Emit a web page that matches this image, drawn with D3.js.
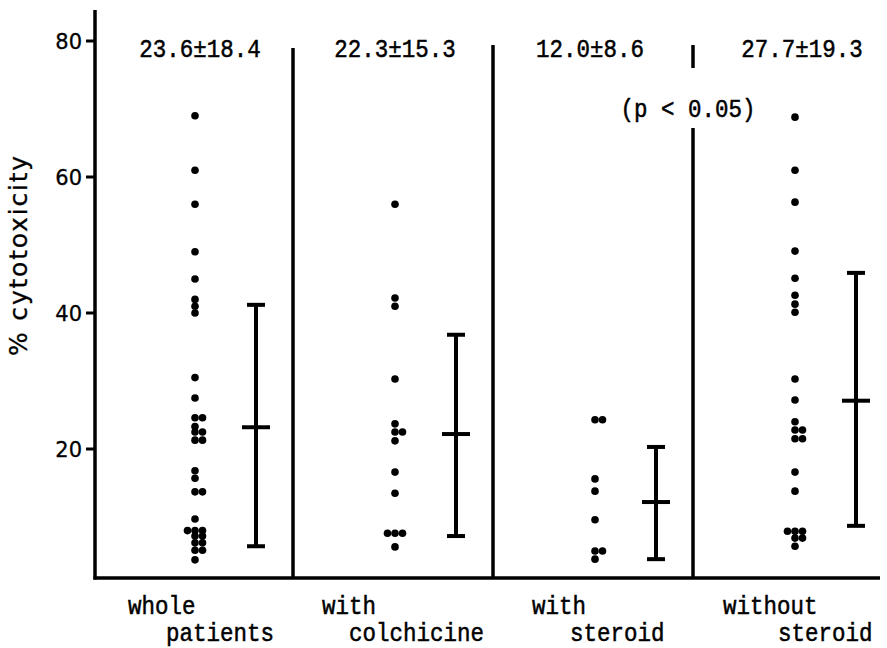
<!DOCTYPE html>
<html>
<head>
<meta charset="utf-8">
<script src="https://cdn.jsdelivr.net/npm/d3@7"></script>
<style>
body{margin:0;background:#fff;}
text{fill:#000;}
.tw{font-family:'Liberation Mono','DejaVu Sans Mono',monospace;font-size:22.5px;stroke:#000;stroke-width:0.45px;}
</style>
</head>
<body>
<div id="chart"></div>
<script>
// groups along the x axis
var groups=["whole patients","with colchicine","with steroid","without steroid"];
var labelTop=["whole","with","with","without"],
    labelBottom=["patients","colchicine","steroid","steroid"];
var statLabels=["23.6±18.4","22.3±15.3","12.0±8.6","27.7±19.3"];

// % cytotoxicity of each patient
var wholeVals=[69,61,56,49,45,42,41,40,30.5,27.5,24.6,24.6,23.3,22.5,22.5,21.3,21.3,
  16.8,15.7,13.7,13.7,9.7,8,8,8,7.2,7.2,6.2,6.2,5.1,5.1,3.7];
var colchVals=[56,42.2,41,30.3,23.7,22.5,22.5,21.2,16.6,13.5,7.6,7.6,7.6,5.6];
var steroidVals=[24.3,24.3,15.6,13.8,9.6,5,5,3.8];
var noSteroidVals=[68.8,61,56.3,49.1,45.1,42.6,41.3,40.1,30.3,27.2,24,22.8,22.8,21.5,21.5,
  16.6,13.8,7.9,7.9,7.9,6.9,6.9,5.7];
var allVals=[wholeVals,colchVals,steroidVals,noSteroidVals];

// mean and SD bars as drawn
var barMean=[23.2,22.2,12.2,27.1],
    barLow=[5.7,7.2,3.8,8.7],
    barHigh=[41.2,36.8,20.3,45.9];

var yTicks=[20,40,60,80];

var width=887,height=648;
var svg=d3.select("#chart").append("svg")
  .attr("width",width).attr("height",height);

var left=95,bottom=578,right=880;

var y=d3.scaleLinear().domain([0,80]).range([585,41]);
// band for each group, dots column and error bar column inside
var x=d3.scaleBand().domain(groups).range([95,895]).paddingInner(0).paddingOuter(0);
var dotX=function(i){return x(groups[i])+100;},
    barX=function(i){return x(groups[i])+161;};

// typewriter text, a bit taller than the font draws it
function tw(sel,xf,yf){
  sel.attr("class","tw")
    .attr("transform",function(d,i){return "translate("+xf(d,i)+","+yf(d,i)+")scale(1,1.12)";})
    .text(function(d){return d;});
}

// y axis
svg.append("line").attr("x1",left).attr("x2",left).attr("y1",10).attr("y2",bottom+1.5)
  .attr("stroke","#000").attr("stroke-width",3.5);
svg.append("line").attr("x1",left-1.5).attr("x2",right).attr("y1",bottom).attr("y2",bottom)
  .attr("stroke","#000").attr("stroke-width",3.5);

var tick=svg.append("g").selectAll("g").data(yTicks).enter().append("g")
  .attr("transform",function(d){return "translate(0,"+y(d)+")";});
tick.append("line").attr("x1",left-9).attr("x2",left).attr("stroke","#000").attr("stroke-width",3);
tick.append("text").attr("x",left-13).attr("dy","0.36em").attr("text-anchor","end")
  .style("font-family","'DejaVu Sans', sans-serif").style("font-size","21px")
  .attr("stroke","#000").attr("stroke-width",0.3)
  .text(function(d){return d;});

svg.append("text")
  .attr("transform","translate(27,255)rotate(-90)")
  .attr("text-anchor","middle")
  .style("font-family","'DejaVu Sans', sans-serif").style("font-size","25px")
  .style("letter-spacing","1.8px")
  .attr("stroke","#000").attr("stroke-width",0.3)
  .text("% cytotoxicity");

// dividers between groups
var divTop=[48,45,45];
for(var i=1;i<groups.length;i++){
  var dx=x(groups[i])-2;
  if(i==3){
    svg.append("line").attr("x1",dx).attr("x2",dx).attr("y1",divTop[i-1]).attr("y2",68)
      .attr("stroke","#000").attr("stroke-width",3.5);
    svg.append("line").attr("x1",dx).attr("x2",dx).attr("y1",128).attr("y2",bottom)
      .attr("stroke","#000").attr("stroke-width",3.5);
  }else{
    svg.append("line").attr("x1",dx).attr("x2",dx).attr("y1",divTop[i-1]).attr("y2",bottom)
      .attr("stroke","#000").attr("stroke-width",3.5);
  }
}

// dots, tied values set side by side
allVals.forEach(function(vals,gi){
  var counts=d3.rollup(vals,function(v){return v.length;},function(d){return d;});
  var seen=new Map();
  var pts=vals.map(function(v){
    var n=counts.get(v),k=seen.get(v)||0;
    seen.set(v,k+1);
    var off=n>=3?k-1:k;
    return {v:v,off:off};
  });
  svg.append("g").selectAll("circle").data(pts).enter().append("circle")
    .attr("cx",function(d){return dotX(gi)+d.off*7.5;})
    .attr("cy",function(d){return y(d.v);})
    .attr("r",3.8).attr("fill","#000");
});

// mean +- SD bars
var bars=svg.append("g").selectAll("g").data(groups).enter().append("g");
bars.append("line")
  .attr("x1",function(d,i){return barX(i);}).attr("x2",function(d,i){return barX(i);})
  .attr("y1",function(d,i){return y(barHigh[i]);}).attr("y2",function(d,i){return y(barLow[i]);})
  .attr("stroke","#000").attr("stroke-width",4);
[barHigh,barLow].forEach(function(arr){
  bars.append("line")
    .attr("x1",function(d,i){return barX(i)-9;}).attr("x2",function(d,i){return barX(i)+9;})
    .attr("y1",function(d,i){return y(arr[i]);}).attr("y2",function(d,i){return y(arr[i]);})
    .attr("stroke","#000").attr("stroke-width",4);
});
bars.append("line")
  .attr("x1",function(d,i){return barX(i)-14;}).attr("x2",function(d,i){return barX(i)+14;})
  .attr("y1",function(d,i){return y(barMean[i]);}).attr("y2",function(d,i){return y(barMean[i]);})
  .attr("stroke","#000").attr("stroke-width",4);

// mean +- SD text
var statX=[200,395,590,802];
tw(svg.append("g").selectAll("text").data(statLabels).enter().append("text")
  .attr("text-anchor","middle"),
  function(d,i){return statX[i];},function(){return 57;});

tw(svg.append("g").selectAll("text").data(["(p < 0.05)"]).enter().append("text")
  .attr("text-anchor","middle"),
  function(){return 688;},function(){return 117;});

// group labels
var topX=[128,322,532,723],botX=[166,349,570,778];
tw(svg.append("g").selectAll("text").data(labelTop).enter().append("text"),
  function(d,i){return topX[i];},function(){return 614;});
tw(svg.append("g").selectAll("text").data(labelBottom).enter().append("text"),
  function(d,i){return botX[i];},function(){return 641;});
</script>
</body>
</html>
